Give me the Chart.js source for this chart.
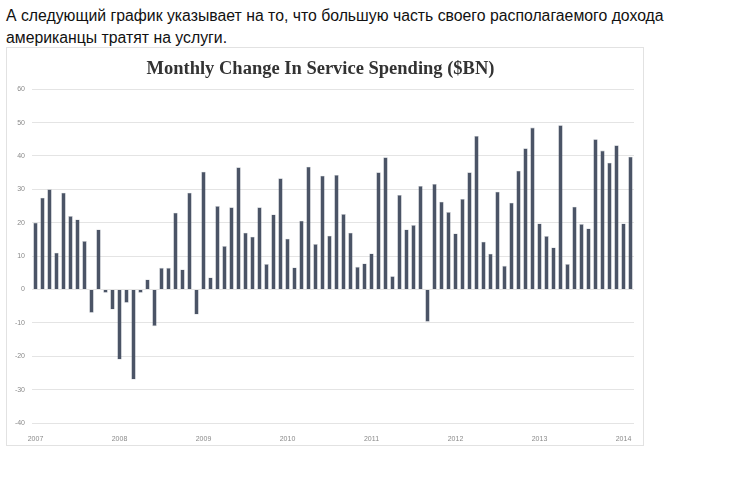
<!DOCTYPE html>
<html>
<head>
<meta charset="utf-8">
<script src="https://cdn.jsdelivr.net/npm/chart.js@4"></script>
<style>
    body { margin: 0; background: #fff; }
    #intro {
        position: absolute; left: 6px; top: 5px; margin: 0;
        font: 15.8px "Liberation Sans", Arial, sans-serif; line-height: 22px; color: #111;
    }
    #box {
        position: absolute; left: 6px; top: 47px; width: 636px; height: 397px;
        border: 1px solid #e2e2e2; background: #fff;
    }
</style>
</head>
<body>
<p id="intro">А следующий график указывает на то, что большую часть своего располагаемого дохода<br>американцы тратят на услуги.</p>
<div id="box"><canvas id="myChart" width="636" height="397"></canvas></div>
<script>
// Monthly change in service spending, $BN
const years = ['2007', '2008', '2009', '2010', '2011', '2012', '2013', '2014'];
const spending2007 = [20, 27.5, 30, 11, 29, 22, 21, 14.5, -7, 18, -1, -6];
const spending2008 = [-21, -4, -27, -1, 3, -11, 6.5, 6.5, 23, 6, 29, -7.5];
const spending2009 = [35.3, 3.6, 25, 13, 24.6, 36.6, 17, 15.8, 24.6, 7.6, 22.5, 33.3];
const spending2010 = [15.2, 6.6, 20.6, 36.8, 13.6, 34.1, 16.1, 34.3, 22.6, 17, 6.8, 7.8];
const spending2011 = [10.8, 35.1, 39.6, 4, 28.3, 18, 19.3, 31, -9.7, 31.6, 26.3, 23.2];
const spending2012 = [16.8, 27.1, 35.1, 46, 14.3, 10.7, 29.3, 7.1, 26, 35.6, 42.3, 48.5];
const spending2013 = [19.8, 16, 12.6, 49.2, 7.6, 24.8, 19.6, 18.3, 45, 41.6, 38, 43.2];
const spending2014 = [19.8, 39.8];
const yTicks = [-40, -30, -20, -10, 0, 10, 20, 30, 40, 50, 60];

const values = [].concat(spending2007, spending2008, spending2009, spending2010,
    spending2011, spending2012, spending2013, spending2014);
const months = values.map((v, i) => years[Math.floor(i / 12)] + '-' + String(i % 12 + 1).padStart(2, '0'));

const ctx = document.getElementById('myChart').getContext('2d');
new Chart(ctx, {
    type: 'bar',
    data: {
        labels: months,
        datasets: [{
            label: 'Service spending',
            data: values,
            backgroundColor: '#4b5466',
            borderColor: 'rgba(75, 84, 102, 0.4)',
            borderWidth: 0.6,
            barPercentage: 0.64,
            categoryPercentage: 1.0
        }]
    },
    options: {
        responsive: false,
        animation: false,
        layout: { padding: { left: 0, right: 9, top: 0, bottom: 0 } },
        plugins: {
            legend: { display: false },
            tooltip: { enabled: false },
            title: {
                display: true,
                text: 'Monthly Change In Service Spending ($BN)',
                font: { family: '"Liberation Serif", "Times New Roman", serif', size: 18.5, weight: 'bold', lineHeight: 1.2 },
                color: '#333333',
                padding: { top: 10, bottom: 9 }
            }
        },
        scales: {
            x: {
                grid: { display: false },
                border: { display: false },
                afterFit: axis => { axis.height = 22; },
                ticks: {
                    autoSkip: false,
                    maxRotation: 0,
                    padding: 4,
                    font: { family: '"Liberation Sans", Arial, sans-serif', size: 7 },
                    color: '#8a8a8a',
                    callback: (val, i) => (i % 12 === 0 ? years[i / 12] : '')
                }
            },
            y: {
                min: -40,
                max: 60,
                afterBuildTicks: axis => { axis.ticks = yTicks.map(v => ({ value: v })); },
                afterFit: axis => { axis.width = 25; },
                grid: { color: '#e4e4e4', lineWidth: 1, drawTicks: false },
                border: { display: false },
                ticks: {
                    padding: 7,
                    font: { family: '"Liberation Sans", Arial, sans-serif', size: 7 },
                    color: '#8a8a8a'
                }
            }
        }
    }
});
</script>
</body>
</html>
